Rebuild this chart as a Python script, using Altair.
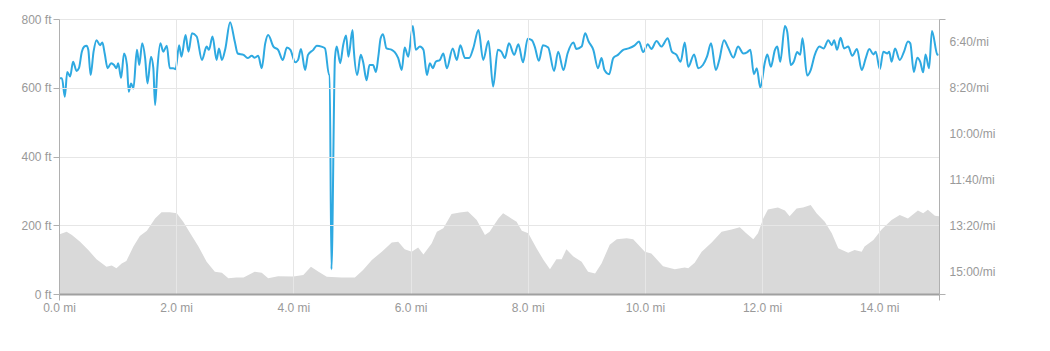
import altair as alt
import pandas as pd

# Elevation profile (miles, feet)
elev_mi = [0.00, 0.13, 0.22, 0.36, 0.50, 0.64, 0.81, 0.90, 0.98, 1.07, 1.15, 1.27, 1.38, 1.50,
           1.64, 1.75, 1.89, 2.01, 2.12, 2.24, 2.38, 2.52, 2.66, 2.78, 2.89, 3.03, 3.15, 3.34,
           3.46, 3.57, 3.74, 4.00, 4.17, 4.30, 4.43, 4.57, 4.82, 5.05, 5.19, 5.34, 5.51, 5.68,
           5.79, 5.90, 6.02, 6.13, 6.22, 6.36, 6.45, 6.56, 6.70, 6.84, 6.98, 7.13, 7.27, 7.35,
           7.50, 7.58, 7.72, 7.81, 7.90, 8.01, 8.15, 8.27, 8.38, 8.49, 8.58, 8.66, 8.78, 8.92,
           9.03, 9.15, 9.26, 9.40, 9.52, 9.69, 9.80, 10.00, 10.11, 10.31, 10.51, 10.68, 10.74,
           10.85, 10.97, 11.14, 11.31, 11.48, 11.62, 11.73, 11.85, 11.93, 12.02, 12.10, 12.27,
           12.39, 12.47, 12.59, 12.70, 12.83, 12.93, 13.07, 13.19, 13.30, 13.47, 13.58, 13.70,
           13.75, 13.90, 14.04, 14.21, 14.35, 14.49, 14.66, 14.75, 14.83, 14.95, 15.02]
elev_ft = [173, 181, 172, 152, 128, 101, 79, 83, 75, 89, 96, 138, 169, 184,
           220, 238, 238, 235, 210, 177, 138, 94, 65, 62, 46, 48, 48, 65,
           62, 46, 52, 51, 55, 79, 65, 50, 48, 48, 70, 99, 123, 150,
           152, 130, 123, 135, 115, 147, 181, 191, 233, 237, 240, 215, 172, 181,
           220, 235, 220, 210, 184, 177, 133, 99, 72, 101, 101, 130, 109, 94,
           65, 60, 89, 143, 159, 162, 159, 123, 118, 81, 72, 77, 75,
           91, 123, 150, 181, 188, 194, 177, 159, 177, 220, 246, 252,
           243, 226, 249, 252, 259, 235, 210, 177, 133, 120, 128, 123,
           138, 157, 188, 215, 230, 220, 243, 235, 245, 228, 226]

# Pace (miles, seconds per mile)
pace_mi = [0.00, 0.05, 0.10, 0.14, 0.19, 0.24, 0.30, 0.34, 0.39, 0.43, 0.47, 0.50, 0.54, 0.59,
           0.64, 0.70, 0.74, 0.78, 0.83, 0.89, 0.94, 0.98, 1.01, 1.06, 1.11, 1.16, 1.19, 1.23,
           1.27, 1.33, 1.37, 1.42, 1.47, 1.51, 1.57, 1.61, 1.64, 1.68, 1.73, 1.78, 1.84, 1.89,
           1.95, 1.99, 2.05, 2.09, 2.16, 2.21, 2.27, 2.35, 2.44, 2.52, 2.56, 2.62, 2.69, 2.73,
           2.78, 2.84, 2.92, 3.00, 3.05, 3.15, 3.22, 3.29, 3.34, 3.40, 3.46, 3.52, 3.57, 3.66,
           3.74, 3.82, 3.89, 3.95, 4.03, 4.08, 4.13, 4.20, 4.25, 4.34, 4.40, 4.48, 4.54, 4.61,
           4.62, 4.65, 4.71, 4.74, 4.80, 4.85, 4.90, 4.94, 5.01, 5.03, 5.09, 5.15, 5.19, 5.25,
           5.30, 5.36, 5.41, 5.45, 5.49, 5.53, 5.59, 5.68, 5.73, 5.79, 5.85, 5.90, 5.96, 6.04,
           6.09, 6.16, 6.22, 6.28, 6.33, 6.38, 6.43, 6.50, 6.56, 6.62, 6.72, 6.79, 6.85, 6.93,
           7.00, 7.07, 7.16, 7.24, 7.33, 7.41, 7.49, 7.55, 7.61, 7.68, 7.77, 7.84, 7.92, 8.00,
           8.07, 8.12, 8.19, 8.26, 8.35, 8.45, 8.52, 8.61, 8.68, 8.78, 8.83, 8.92, 8.98, 9.04,
           9.12, 9.20, 9.26, 9.31, 9.39, 9.46, 9.54, 9.63, 9.72, 9.82, 9.90, 9.97, 10.05, 10.11,
           10.20, 10.28, 10.39, 10.46, 10.54, 10.61, 10.68, 10.74, 10.84, 10.91, 10.99, 11.06,
           11.13, 11.21, 11.27, 11.35, 11.42, 11.51, 11.59, 11.68, 11.75, 11.80, 11.86, 11.91,
           11.97, 12.05, 12.09, 12.15, 12.22, 12.26, 12.31, 12.39, 12.43, 12.49, 12.54, 12.60,
           12.65, 12.69, 12.77, 12.83, 12.90, 12.98, 13.05, 13.13, 13.19, 13.23, 13.28, 13.34,
           13.40, 13.47, 13.54, 13.62, 13.70, 13.77, 13.83, 13.90, 13.94, 14.01, 14.07, 14.14,
           14.17, 14.21, 14.27, 14.35, 14.42, 14.49, 14.53, 14.59, 14.65, 14.70, 14.75, 14.79,
           14.85, 14.90, 14.99, 15.01]
pace_sec = [479, 479, 519, 465, 475, 443, 463, 457, 421, 410, 408, 417, 472, 421,
            396, 407, 401, 425, 457, 446, 450, 457, 446, 478, 425, 450, 508, 490,
            501, 417, 450, 403, 435, 490, 432, 457, 537, 457, 403, 421, 408, 457,
            457, 459, 407, 432, 385, 421, 381, 388, 439, 410, 417, 388, 439, 414,
            439, 414, 357, 399, 425, 428, 435, 430, 434, 430, 457, 403, 385, 410,
            417, 439, 412, 417, 444, 439, 415, 461, 428, 417, 408, 410, 414, 472,
            472, 894, 435, 410, 446, 407, 386, 432, 374, 414, 472, 428, 443, 483,
            450, 450, 465, 432, 392, 383, 414, 417, 422, 435, 461, 412, 432, 365,
            417, 410, 417, 472, 446, 457, 443, 439, 425, 457, 414, 439, 407, 435,
            435, 414, 374, 439, 398, 497, 417, 421, 435, 403, 428, 405, 444, 393,
            396, 410, 441, 407, 412, 463, 421, 461, 425, 401, 415, 410, 381, 399,
            417, 457, 435, 461, 470, 435, 428, 417, 414, 408, 399, 422, 405, 415,
            398, 410, 392, 421, 428, 443, 401, 454, 427, 457, 450, 432,
            403, 461, 439, 396, 412, 434, 410, 425, 422, 417, 470, 457,
            499, 443, 427, 454, 417, 410, 443, 365, 378, 450, 443, 422,
            428, 392, 473, 461, 428, 410, 414, 396, 407, 396, 417, 391,
            414, 410, 430, 415, 461, 435, 415, 427, 421, 459, 421, 425,
            421, 443, 414, 439, 422, 399, 403, 465, 434, 443, 466, 427,
            457, 376, 427, 428]

x_ticks = [0, 2, 4, 6, 8, 10, 12, 14, 15.02]
elev_ticks = [0, 200, 400, 600, 800]
pace_ticks = [350, 400, 500, 600, 700, 800, 900, 948]

elev_df = pd.DataFrame({"mi": elev_mi, "ft": elev_ft})
pace_df = pd.DataFrame({"mi": pace_mi, "sec": pace_sec})

FONT = "Liberation Sans"
LABEL = "#999999"
GRID = "#e6e6e6"
AXIS = "#b0b0b0"

x_scale = alt.Scale(domain=[0, 15.02], nice=False, zero=False)

x_axis = alt.Axis(
    values=x_ticks,
    labelExpr="datum.value > 14.5 ? '' : format(datum.value, '.1f') + ' mi'",
    tickOpacity={"condition": {"test": "datum.value == 0 || datum.value > 14.5", "value": 1}, "value": 0},
    grid=True, gridColor=GRID, gridWidth=1,
    domainColor="#a0a0a0", domainWidth=2,
    tickColor=AXIS, tickSize=6,
    labelColor=LABEL, labelFont=FONT, labelFontSize=12, labelPadding=2,
    labelFlush=False,
    title=None, zindex=1,
)

elev_axis = alt.Axis(
    values=elev_ticks,
    labelExpr="datum.value + ' ft'",
    grid=True, gridColor=GRID, gridWidth=1,
    domainColor=AXIS, tickColor=AXIS, tickSize=6,
    labelColor=LABEL, labelFont=FONT, labelFontSize=12, labelPadding=2,
    title=None, zindex=1,
)

pace_axis = alt.Axis(
    orient="right",
    values=pace_ticks,
    labelExpr="(datum.value < 380 || datum.value > 920) ? '' : floor(datum.value / 60) + ':' + (datum.value % 60 < 10 ? '0' : '') + (datum.value % 60) + '/mi'",
    tickOpacity={"condition": {"test": "datum.value < 380 || datum.value > 920", "value": 1}, "value": 0},
    grid=False,
    domainColor=AXIS, tickColor=AXIS, tickSize=6,
    labelColor=LABEL, labelFont=FONT, labelFontSize=12, labelPadding=4,
    labelFlush=False,
    title=None, zindex=1,
)

area = alt.Chart(elev_df).mark_area(color="#d9d9d9", opacity=1).encode(
    x=alt.X("mi:Q", scale=x_scale, axis=x_axis),
    y=alt.Y("ft:Q", scale=alt.Scale(domain=[0, 800], nice=False), axis=elev_axis),
)

line = alt.Chart(pace_df).mark_line(color="#2ea9e1", strokeWidth=2, interpolate="monotone").encode(
    x=alt.X("mi:Q", scale=x_scale),
    y=alt.Y("sec:Q", scale=alt.Scale(domain=[350, 948], reverse=True, nice=False, zero=False), axis=pace_axis),
)

chart = alt.layer(area, line).resolve_scale(y="independent").properties(
    width=880,
    height=275,
    autosize=alt.AutoSizeParams(type="none"),
    padding={"left": 59, "top": 19, "right": 111, "bottom": 57},
    background="white",
).configure_view(stroke=None)

chart.save("out.html", embed_options={"renderer": "svg", "actions": False})
